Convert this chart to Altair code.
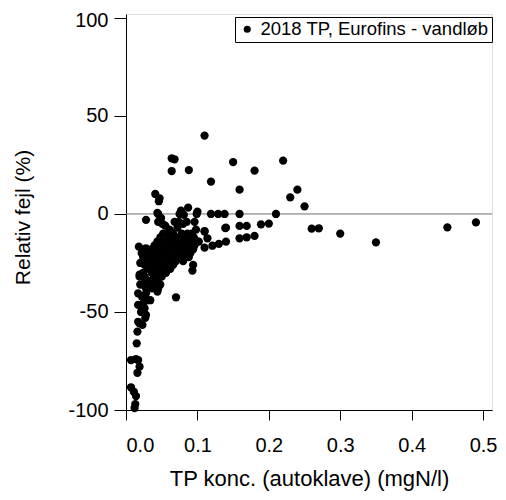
import altair as alt
import pandas as pd

SERIES = "2018 TP, Eurofins - vandløb"

# isolated / readable points
x_pts = [0.110, 0.150, 0.220, 0.180, 0.119, 0.159, 0.240, 0.230, 0.250,
         0.064, 0.068, 0.064, 0.088, 0.041, 0.047, 0.046,
         0.045, 0.044, 0.075, 0.081, 0.077, 0.087, 0.099, 0.100, 0.119, 0.129, 0.138, 0.159, 0.210,
         0.110, 0.140, 0.139, 0.159, 0.169, 0.189, 0.200, 0.260, 0.270, 0.300, 0.350, 0.450, 0.490,
         0.159, 0.169, 0.180, 0.140, 0.130, 0.121, 0.110, 0.114, 0.102,
         0.028, 0.045, 0.051, 0.049, 0.055, 0.061, 0.068, 0.074, 0.080, 0.085, 0.096, 0.098, 0.110, 0.072, 0.064,
         0.070, 0.094, 0.093, 0.019, 0.026, 0.017, 0.028, 0.044,
         0.017, 0.026, 0.028, 0.019, 0.017, 0.023, 0.016, 0.015,
         0.007, 0.017, 0.014, 0.019, 0.016, 0.007, 0.011, 0.014, 0.012, 0.013,
         0.022, 0.025, 0.020, 0.030, 0.021, 0.027]
y_pts = [40.0, 26.5, 27.2, 22.1, 16.5, 12.4, 12.4, 8.5, 3.9,
         28.4, 27.9, 21.9, 22.4, 10.2, 8.0, 6.5,
         0.0, 0.5, 0.0, -0.5, 1.7, 3.2, 0.0, 1.2, 0.0, 0.0, 0.0, 0.0, 0.0,
         -8.7, -7.0, -7.2, -6.1, -6.1, -5.3, -4.9, -7.5, -7.3, -10.0, -14.5, -6.8, -4.3,
         -12.4, -11.9, -11.2, -14.1, -15.3, -16.2, -17.2, -12.4, -14.1,
         -3.0, -4.0, -5.0, -2.0, -6.0, -8.0, -4.0, -4.0, -5.0, -4.0, -4.0, -8.0, -9.0, -7.0, -10.0,
         -42.5, -26.0, -28.9, -31.0, -32.8, -40.5, -40.5, -39.6,
         -46.4, -48.1, -51.5, -55.8, -55.0, -56.6, -60.0, -66.0,
         -74.5, -74.5, -74.0, -77.9, -81.0, -88.4, -90.7, -92.9, -99.0, -97.0,
         -42.0, -45.0, -36.0, -44.0, -50.0, -53.0]

# dense cluster (estimated rows)
cl_x = [0.052, 0.058, 0.066, 0.078, 0.086, 0.092,
        0.048, 0.060, 0.070, 0.082, 0.090, 0.095,
        0.044, 0.056, 0.064, 0.074, 0.084, 0.092, 0.100,
        0.040, 0.050, 0.062, 0.070, 0.080, 0.088, 0.096,
        0.036, 0.046, 0.054, 0.066, 0.076, 0.086, 0.094,
        0.022, 0.030, 0.040, 0.050, 0.060, 0.072, 0.082, 0.090,
        0.034, 0.044, 0.056, 0.066, 0.078, 0.088,
        0.030, 0.040, 0.050, 0.060, 0.070, 0.080,
        0.026, 0.036, 0.046, 0.056, 0.066,
        0.032, 0.042, 0.052, 0.062,
        0.024, 0.036, 0.046, 0.056,
        0.019, 0.026, 0.040, 0.050,
        0.030, 0.036, 0.044,
        0.024, 0.032, 0.040, 0.048,
        0.028, 0.036, 0.045,
        0.018, 0.028, 0.024, 0.020, 0.034]
cl_y = [-10, -10, -10, -10, -10, -10,
        -12, -12, -12, -12, -12, -12,
        -14, -14, -14, -14, -14, -14, -14,
        -16, -16, -16, -16, -16, -16, -16,
        -18, -18, -18, -18, -18, -18, -18,
        -20, -20, -20, -20, -20, -20, -20, -20,
        -22, -22, -22, -22, -22, -22,
        -24, -24, -24, -24, -24, -24,
        -26, -26, -26, -26, -26,
        -28, -28, -28, -28,
        -30, -30, -30, -30,
        -32, -32, -32, -32,
        -34, -34, -34,
        -36, -36, -36, -36,
        -38, -38, -38,
        -16.7, -17.5, -22, -25, -44]

x_all = x_pts + cl_x
y_all = y_pts + cl_y

df = pd.DataFrame({"x": x_all, "y": y_all, "serie": [SERIES] * len(x_all)})
zero = pd.DataFrame({"y0": [0]})

x_ticks = [0.0, 0.1, 0.2, 0.3, 0.4, 0.5]
y_ticks = [-100, -50, 0, 50, 100]

FONT = "Liberation Sans"

rule = alt.Chart(zero).mark_rule(color="#6e6e6e", strokeWidth=1).encode(y=alt.Y("y0:Q"))

points = alt.Chart(df).mark_circle(size=68, opacity=1).encode(
    x=alt.X("x:Q",
            scale=alt.Scale(domain=[0, 0.5125], nice=False, zero=False),
            axis=alt.Axis(values=x_ticks, format=".1f", title="TP konc. (autoklave) (mgN/l)",
                          tickSize=10, labelPadding=15, titlePadding=13,
                          labelFontSize=20, titleFontSize=22, grid=False,
                          domainColor="black", tickColor="black",
                          labelColor="black", titleColor="black",
                          titleFontWeight="normal", labelFont=FONT, titleFont=FONT)),
    y=alt.Y("y:Q",
            scale=alt.Scale(domain=[-100, 102], nice=False, zero=False),
            axis=alt.Axis(values=y_ticks, labelExpr="'' + datum.value", title="Relativ fejl (%)",
                          tickSize=12, labelPadding=6, titleX=-93, titleY=203,
                          labelOffset=alt.condition("datum.value == 100", alt.value(3), alt.value(0)),
                          labelFontSize=20, titleFontSize=21, grid=False,
                          domainColor="black", tickColor="black",
                          labelColor="black", titleColor="black",
                          titleFontWeight="normal", labelFont=FONT, titleFont=FONT)),
    color=alt.Color("serie:N", scale=alt.Scale(range=["black"]),
                    legend=alt.Legend(title=None, orient="none", legendX=109, legendY=3,
                                      strokeColor="black", padding=3, labelFontSize=18.5,
                                      labelFont=FONT, labelColor="black",
                                      symbolType="circle", symbolSize=50, symbolOpacity=1,
                                      symbolStrokeWidth=0, labelLimit=400, fillColor="white")),
)

chart = alt.layer(rule, points).properties(
    width=366, height=396,
    autosize=alt.AutoSizeParams(type="none"),
    padding={"left": 118, "top": 6, "right": 6, "bottom": 82},
).configure_view(stroke="black", strokeWidth=1).configure(background="white")

chart.save("out.html", embed_options={"renderer": "svg", "actions": False})
